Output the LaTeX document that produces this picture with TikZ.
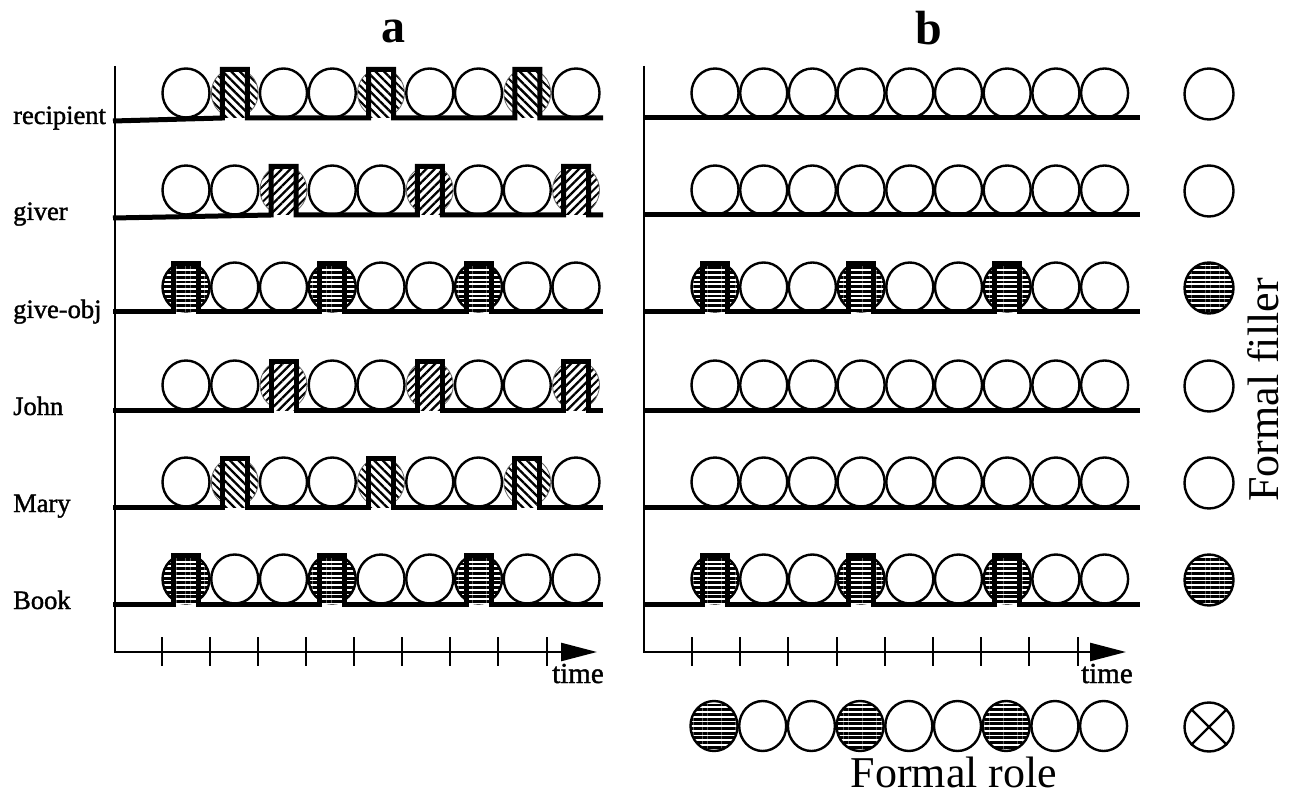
\documentclass[tikz,border=0pt]{standalone}
\usepackage{fontspec}
\setmainfont{Liberation Serif}
\newfontfamily\labfont[FakeBold=1.4]{Liberation Serif}
\usetikzlibrary{patterns.meta,arrows.meta}
\tikzset{
  plain/.style={draw,line width=2.4pt,fill=white},
  circh/.style={draw,line width=2.4pt,fill=white,postaction={pattern={Lines[angle=0,distance=4.7pt,line width=2.9pt]}}},
  circnw/.style={fill=white,postaction={pattern={Lines[angle=-45,distance=5.5pt,line width=2pt]}},postaction={draw,line width=0.8pt,black!60}},
  circne/.style={fill=white,postaction={pattern={Lines[angle=45,distance=5.5pt,line width=2pt]}},postaction={draw,line width=0.8pt,black!60}},
  pulh/.style={fill=white,postaction={pattern={Lines[angle=0,distance=4.7pt,line width=2.8pt]}}},
  pulnw/.style={fill=white,postaction={pattern={Lines[angle=-45,distance=6pt,line width=2.3pt]}}},
  pulne/.style={fill=white,postaction={pattern={Lines[angle=45,distance=6pt,line width=2.3pt]}}},
  signal/.style={line width=5pt,line join=miter,line cap=butt},
  axisline/.style={line width=2.5pt},
  tick/.style={line width=2pt},
  rowlabel/.style={anchor=base west,inner sep=0pt,font=\labfont\fontsize{26.5}{30}\selectfont},
  timelabel/.style={anchor=base west,inner sep=0pt,font=\labfont\fontsize{29}{32}\selectfont},
  title/.style={anchor=base,inner sep=0pt,font=\fontsize{48}{52}\selectfont\bfseries},
  biglabel/.style={anchor=base,inner sep=0pt,font=\fontsize{44}{48}\selectfont},
}
\def\startdy{0}
% #1 line x0, #2 line x1, #3 first centre, #4 spacing, #5 baseline, #6 first pulse index (-1 none), #7 kind
\newcommand\drawrow[7]{%
  \pgfmathsetmacro\cy{#5-25}%
  \foreach \k in {0,...,8}{%
    \pgfmathsetmacro\cx{#3+\k*#4}%
    \pgfmathtruncatemacro\m{(#6<0) ? 1 : mod(\k+9-(#6),3)}%
    \ifnum\m=0\relax
      \path[circ#7] (\cx,\cy) ellipse [x radius=23.5pt,y radius=24.5pt];
    \else
      \path[plain] (\cx,\cy) ellipse [x radius=23.5pt,y radius=24.5pt];
    \fi
  }%
  \ifnum#6<0\relax
    \draw[signal] (#1,#5) -- (#2,#5);
  \else
    \pgfmathsetmacro\pa{#3+(#6)*#4}%
    \pgfmathsetmacro\pb{\pa+3*#4}%
    \pgfmathsetmacro\pc{\pa+6*#4}%
    \pgfmathsetmacro\ty{#5-48.5}%
    \foreach \p in {\pa,\pb,\pc}{%
      \path[pul#7] ({\p-12.5},\ty) rectangle ({\p+12.5},#5);
    }%
    \draw[signal] (#1,{#5+\startdy}) -- ({\pa-12.5},#5) -- ({\pa-12.5},\ty) -- ({\pa+12.5},\ty) -- ({\pa+12.5},#5)
      -- ({\pb-12.5},#5) -- ({\pb-12.5},\ty) -- ({\pb+12.5},\ty) -- ({\pb+12.5},#5)
      -- ({\pc-12.5},#5) -- ({\pc-12.5},\ty) -- ({\pc+12.5},\ty) -- ({\pc+12.5},#5) -- (#2,#5);
  \fi
}
\begin{document}
\begin{tikzpicture}[x=1pt,y=-1pt]
\useasboundingbox (0,0) rectangle (1293,799);

% titles
\node[title] (ta) at (393,43) {a};
\node[title] (tb) at (929,45) {b};

% row labels
\node[rowlabel] (lrec) at (13,124) {recipient};
\node[rowlabel] (lgiv) at (13,220) {giver};
\node[rowlabel] (lobj) at (13,318) {give-obj};
\node[rowlabel] (ljoh) at (13,415) {John};
\node[rowlabel] (lmar) at (13,512) {Mary};
\node[rowlabel] (lboo) at (13,609) {Book};

% panel a axes
\draw[axisline,-{Triangle[length=36pt,width=18pt]}] (115,66) -- (115,652) -- (597,652);
\foreach \i in {0,...,8}{\draw[tick] ({161.7+48.1*\i},637) -- ++(0,29);}
\node[timelabel] (timea) at (552,683) {time};

% panel a rows
\def\startdy{3}
\drawrow{113}{603}{186}{48.75}{118}{1}{nw}
\drawrow{113}{603}{186}{48.75}{215}{2}{ne}
\def\startdy{0}
\drawrow{113}{603}{186}{48.75}{312}{0}{h}
\drawrow{113}{603}{186}{48.75}{410}{2}{ne}
\drawrow{113}{603}{186}{48.75}{507}{1}{nw}
\drawrow{113}{603}{186}{48.75}{604}{0}{h}

% panel b axes
\draw[axisline,-{Triangle[length=36pt,width=18pt]}] (644,66) -- (644,652) -- (1126,652);
\foreach \i in {0,...,8}{\draw[tick] ({692+48.2*\i},637) -- ++(0,29);}
\node[timelabel] (timeb) at (1081,683) {time};

% panel b rows
\drawrow{643}{1140}{715}{48.7}{118}{-1}{h}
\drawrow{643}{1140}{715}{48.7}{215}{-1}{h}
\drawrow{643}{1140}{715}{48.7}{312}{0}{h}
\drawrow{643}{1140}{715}{48.7}{410}{-1}{h}
\drawrow{643}{1140}{715}{48.7}{507}{-1}{h}
\drawrow{643}{1140}{715}{48.7}{604}{0}{h}

% formal filler column
\path[plain] (1209,94) ellipse [x radius=24.5pt,y radius=25.5pt];
\path[plain] (1209,191) ellipse [x radius=24.5pt,y radius=25.5pt];
\path[circh] (1209,288) ellipse [x radius=24.5pt,y radius=25.5pt];
\path[plain] (1209,386) ellipse [x radius=24.5pt,y radius=25.5pt];
\path[plain] (1209,483) ellipse [x radius=24.5pt,y radius=25.5pt];
\path[circh] (1209,580) ellipse [x radius=24.5pt,y radius=25.5pt];
\node[biglabel,rotate=90] (ff) at (1278,390) {Formal filler};

% formal role row
\foreach \k in {0,...,8}{%
  \pgfmathsetmacro\cx{714+\k*48.7}%
  \pgfmathtruncatemacro\m{mod(\k,3)}%
  \ifnum\m=0\relax
    \path[circh] (\cx,726) ellipse [x radius=23.5pt,y radius=25pt];
  \else
    \path[plain] (\cx,726) ellipse [x radius=23.5pt,y radius=25pt];
  \fi
}
\node[biglabel] (fr) at (954,787) {Formal role};

% otimes
\node[draw,circle,line width=2.4pt,minimum size=49pt,inner sep=0pt] (ot) at (1209,727) {};
\draw[line width=2.4pt] (ot.north west) -- (ot.south east);
\draw[line width=2.4pt] (ot.north east) -- (ot.south west);
\end{tikzpicture}
\end{document}
